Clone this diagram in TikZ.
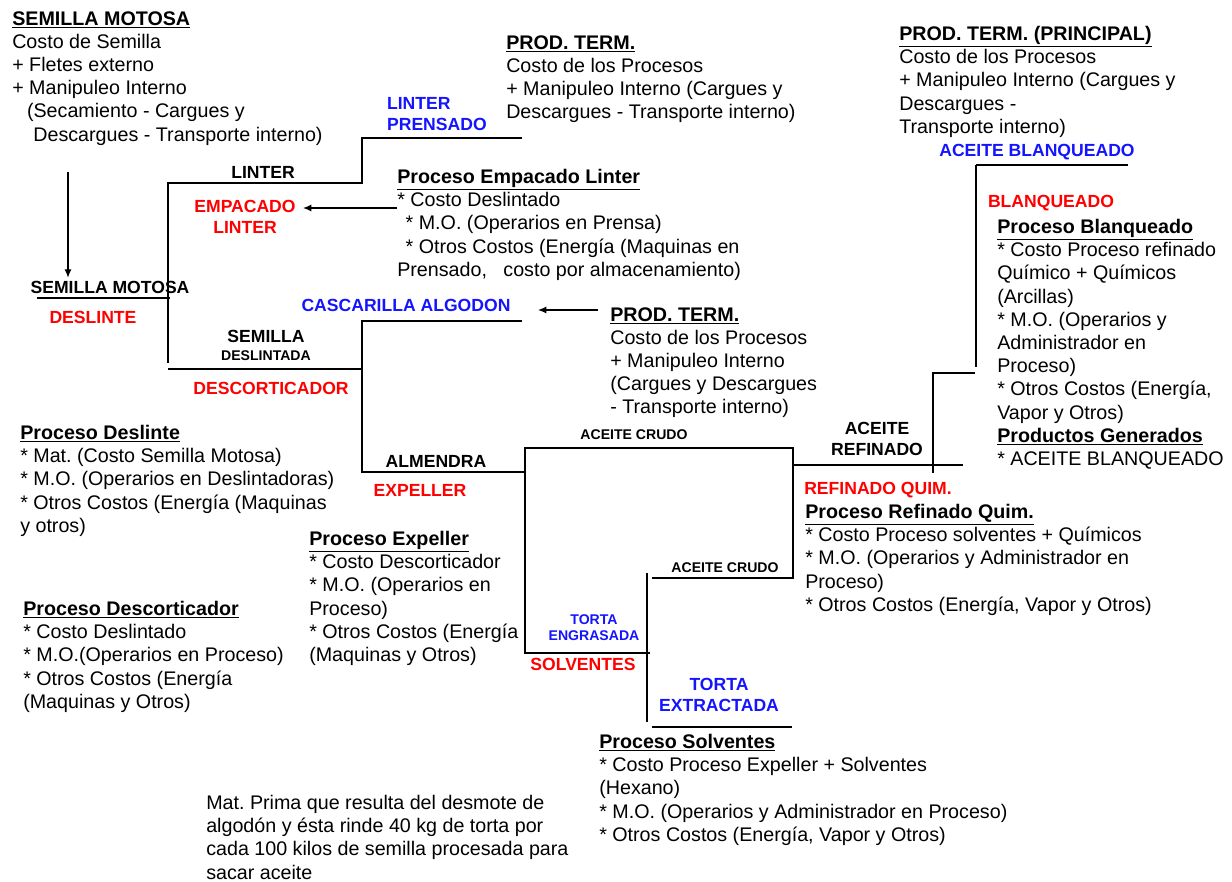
\documentclass[tikz,border=0pt]{standalone}
\usepackage{fontspec}
\setmainfont{Liberation Sans}
\usetikzlibrary{arrows.meta,positioning}
\frenchspacing

\definecolor{rojo}{RGB}{255,0,0}
\definecolor{azul}{RGB}{20,20,255}
\newcommand{\titulo}[1]{\underline{\textbf{#1}}}

\begin{document}
\begin{tikzpicture}[x=0.025cm, y=-0.025cm,
  every node/.style={font=\fontsize{14}{16.5}\selectfont},
  bloque/.style={anchor=north west, align=left, inner sep=0pt},
  etiq/.style={font=\fontsize{12.5}{15}\selectfont\bfseries, align=center, inner sep=2pt},
  chica/.style={font=\fontsize{10}{11.3}\selectfont\bfseries, align=center, inner sep=1pt},
  linea/.style={line width=1.8pt},
  flecha/.style={line width=0.8pt, -{Latex[length=6pt,width=5pt]}}]
  \useasboundingbox (0,0) rectangle (1232,882);

  % bloques de costos
  \node[bloque] (smtit) at (12,11) {\titulo{SEMILLA MOTOSA}\\ Costo de Semilla\\ + Fletes externo\\ + Manipuleo Interno\\ \hspace*{10.5pt}(Secamiento - Cargues y\\ \hspace*{15pt}Descargues - Transporte interno)};
  \node[bloque] (pt1) at (506,35) {\titulo{PROD. TERM.}\\ Costo de los Procesos\\ + Manipuleo Interno (Cargues y\\ Descargues - Transporte interno)};
  \node[bloque] (ptp) at (899,26) {\titulo{PROD. TERM. (PRINCIPAL)}\\ Costo de los Procesos\\ + Manipuleo Interno (Cargues y\\ Descargues -\\ Transporte interno)};
  \node[bloque] (empproc) at (397,169) {\titulo{Proceso Empacado Linter}\\ * Costo Deslintado\\ \hspace*{6pt}* M.O. (Operarios en Prensa)\\ \hspace*{6pt}* Otros Costos (Energía (Maquinas en\\ Prensado,\hspace{0.834em}costo por almacenamiento)};
  \node[bloque] (ptcasc) at (610,307) {\titulo{PROD. TERM.}\\ Costo de los Procesos\\ + Manipuleo Interno\\ (Cargues y Descargues\\ - Transporte interno)};
  \node[bloque] (deslinte) at (20,425) {\titulo{Proceso Deslinte}\\ * Mat. (Costo Semilla Motosa)\\ * M.O. (Operarios en Deslintadoras)\\ * Otros Costos (Energía (Maquinas\\ y otros)};
  \node[bloque] (expproc) at (309,531) {\titulo{Proceso Expeller}\\ * Costo Descorticador\\ * M.O. (Operarios en\\ Proceso)\\ * Otros Costos (Energía\\ (Maquinas y Otros)};
  \node[bloque] (descort) at (23,601) {\titulo{Proceso Descorticador}\\ * Costo Deslintado\\ * M.O.(Operarios en Proceso)\\ * Otros Costos (Energía\\ (Maquinas y Otros)};
  \node[bloque] (blqproc) at (997,219) {\titulo{Proceso Blanqueado}\\ * Costo Proceso refinado\\ Químico + Químicos\\ (Arcillas)\\ * M.O. (Operarios y\\ Administrador en\\ Proceso)\\ * Otros Costos (Energía,\\ Vapor y Otros)\\ \titulo{Productos Generados}\\ * ACEITE BLANQUEADO};
  \node[bloque] (refproc) at (805,504) {\titulo{Proceso Refinado Quim.}\\ * Costo Proceso solventes + Químicos\\ * M.O. (Operarios y Administrador en\\ Proceso)\\ * Otros Costos (Energía, Vapor y Otros)};
  \node[bloque] (solvproc) at (599,734) {\titulo{Proceso Solventes}\\ * Costo Proceso Expeller + Solventes\\ (Hexano)\\ * M.O. (Operarios y Administrador en Proceso)\\ * Otros Costos (Energía, Vapor y Otros)};
  \node[bloque] (nota) at (206,795) {Mat. Prima que resulta del desmote de\\ algodón y ésta rinde 40 kg de torta por\\ cada 100 kilos de semilla procesada para\\ sacar aceite};

  % etiquetas del arbol
  \node[etiq] (linter) at (263,172) {LINTER};
  \node[etiq, text=rojo] (empaq) at (245,217) {EMPACADO\\LINTER};
  \node[etiq, text=azul, align=left, anchor=west] (prensado) at (384,114) {LINTER\\PRENSADO};
  \node[etiq] (smlab) at (110,287) {SEMILLA MOTOSA};
  \node[etiq, text=rojo] (deslab) at (93,317) {DESLINTE};
  \node[etiq, font=\fontsize{12.5}{12.8}\selectfont\bfseries] (semdes) at (266,345) {SEMILLA\\{\fontsize{10}{12.8}\selectfont DESLINTADA}};
  \node[etiq, text=rojo] (descor) at (271,388) {DESCORTICADOR};
  \node[etiq, text=azul] (cascar) at (406,305) {CASCARILLA ALGODON};
  \node[etiq] (almen) at (436,461) {ALMENDRA};
  \node[etiq, text=rojo] (expel) at (420,490) {EXPELLER};
  \node[chica] (crudo1) at (634,435) {ACEITE CRUDO};
  \node[chica] (crudo2) at (725,568) {ACEITE CRUDO};
  \node[chica, text=azul] (engras) at (594,628) {TORTA\\ENGRASADA};
  \node[etiq, text=rojo] (solv) at (583,664) {SOLVENTES};
  \node[etiq, text=azul] (extrac) at (719,695) {TORTA\\EXTRACTADA};
  \node[etiq] (refin) at (877,439) {ACEITE\\REFINADO};
  \node[etiq, text=rojo] (refq) at (878,490) {REFINADO QUIM.};
  \node[etiq, text=rojo] (blanq) at (1051,203) {BLANQUEADO};
  \node[etiq, text=azul] (aceblq) at (1037,152) {ACEITE BLANQUEADO};

  % lineas del proceso
  \draw[linea] (37,298) -- (170,298);
  \draw[linea] (168,363) -- (168,183) -- (362,183) -- (362,138) -- (522,138);
  \draw[linea] (168,369) -- (362,369);
  \draw[linea] (522,321) -- (362,321) -- (362,472) -- (525,472);
  \draw[linea] (650,653) -- (525,653) -- (525,448) -- (793,448) -- (793,578) -- (652,578);
  \draw[linea] (647,573) -- (647,722);
  \draw[linea] (652,727) -- (792,727);
  \draw[linea] (793,465) -- (963,465);
  \draw[linea] (976,165) -- (976,367);
  \draw[linea] (1128,165) -- (976,165);
  \draw[linea] (975,373) -- (933,373) -- (933,473);

  % flechas
  \coordinate (bajada) at (68,172);
  \coordinate (emptip) at (303,208);
  \coordinate (casctip) at (538,310);
  \draw[flecha] (bajada) -- (bajada |- smlab.north);
  \draw[flecha] (empproc.west |- emptip) -- (emptip);
  \draw[flecha] ([xshift=-8.5pt]ptcasc.west |- casctip) -- (casctip);
\end{tikzpicture}
\end{document}
